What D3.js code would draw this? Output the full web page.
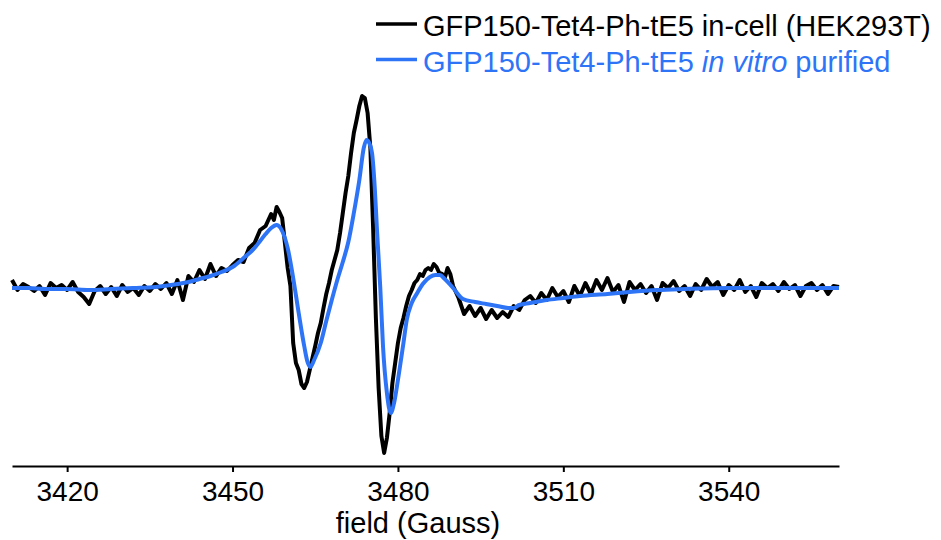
<!DOCTYPE html>
<html lang="en">
	<head>
		<meta charset="utf-8">
		<title>EPR spectra: GFP150-Tet4-Ph-tE5</title>
		<script type="text/javascript" src="https://cdn.jsdelivr.net/npm/d3@7"></script>
		<style type="text/css">
			body { margin: 0; background: #fff; }
			text { font-family: "Liberation Sans", Arial, Helvetica, sans-serif; }
		</style>
	</head>
	<body>
		<script type="text/javascript">

			//Series names and tick labels
			var seriesNames = ["in-cell", "in vitro"];
			var tickValues = [3420, 3450, 3480, 3510, 3540];

			//In-cell spectrum (black), field in Gauss
			var fieldInCell = [
				3410, 3411, 3412, 3413, 3414, 3415, 3416, 3417, 3418, 3419,
				3420, 3421, 3422, 3423, 3424, 3425, 3426, 3427, 3428, 3429,
				3430, 3431, 3432, 3433, 3434, 3435, 3436, 3437, 3438, 3439,
				3440, 3441, 3442, 3443, 3444, 3445, 3446, 3447, 3448, 3449,
				3450, 3451, 3452, 3453, 3454, 3455, 3456, 3457, 3457.5,
				3458, 3458.5, 3459, 3459.5, 3460, 3460.5, 3461, 3461.5, 3462, 3462.5,
				3463, 3463.5, 3464, 3464.5, 3465, 3465.5, 3466, 3466.5, 3467, 3467.5,
				3468, 3468.5, 3469, 3469.5, 3470, 3470.5, 3471, 3471.5, 3472, 3472.5,
				3473, 3473.5, 3474, 3474.5, 3475, 3475.5, 3476, 3476.5, 3477, 3477.5,
				3478, 3478.5, 3479, 3479.5, 3480, 3480.5, 3481, 3481.5, 3482, 3482.5,
				3483, 3483.5, 3484, 3484.5, 3485, 3485.5, 3486, 3486.5, 3487, 3487.5,
				3488, 3488.5, 3489, 3489.5, 3490,
				3491, 3492, 3493, 3494, 3495, 3496, 3497, 3498, 3499, 3500,
				3501, 3502, 3503, 3504, 3505, 3506, 3507, 3508, 3509, 3510,
				3511, 3512, 3513, 3514, 3515, 3516, 3517, 3518, 3519, 3520,
				3521, 3522, 3523, 3524, 3525, 3526, 3527, 3528, 3529, 3530,
				3531, 3532, 3533, 3534, 3535, 3536, 3537, 3538, 3539, 3540,
				3541, 3542, 3543, 3544, 3545, 3546, 3547, 3548, 3549, 3550,
				3551, 3552, 3553, 3554, 3555, 3556, 3557, 3558, 3559, 3560
			];
			var inCell = [
				8, -2, 4, 1, -3, 2, -7, 5, 0, 3,
				-2, 6, -4, -9, -16, -3, 2, -6, 1, -8,
				3, -4, 0, -7, 2, -3, 4, -1, 5, -6,
				8, -12, 12, 6, 18, 9, 24, 12, 20, 17,
				23, 28, 26, 40, 45, 58, 62, 74, 68,
				81, 76, 70, 45, 20, 2, -55, -75, -82, -96,
				-100, -94, -82, -70, -58, -45, -35, -20, -6, 5,
				18, 28, 38, 55, 75, 95, 112, 135, 155, 168,
				182, 192, 190, 175, 140, 60, -30, -100, -148, -165,
				-150, -125, -95, -75, -55, -40, -30, -18, -8, -2,
				5, 8, 14, 12, 18, 20, 18, 24, 21, 15,
				14, 10, 20, 14, 2,
				-10, -26, -18, -28, -20, -31, -22, -30, -24, -29,
				-18, -22, -12, -8, -15, -5, -12, 0, -9, -3,
				-14, 2, -8, 5, -6, 8, -2, 10, -4, 3,
				-14, 6, -2, 4, -5, 2, -12, 5, 0, 7,
				-3, 2, -8, 4, -2, 9, 1, 6, -7, 3,
				-2, 8, -4, 2, -9, 5, 0, 4, -3, 6,
				-1, 3, -8, 2, 5, -2, 3, -6, 2, 1
			];

			//In vitro purified spectrum (blue)
			var fieldInVitro = [
				3410, 3413, 3416, 3420, 3424, 3428, 3432, 3436, 3440, 3442,
				3444, 3446, 3448, 3450, 3452, 3454, 3455, 3456, 3457, 3458,
				3458.7, 3459.5, 3460, 3461, 3462, 3463, 3463.6, 3464.1, 3464.8, 3466,
				3467, 3468, 3469, 3470, 3471, 3472, 3473, 3473.8, 3474.3, 3474.8,
				3475.3, 3475.8, 3476.2, 3476.8, 3477.3, 3478, 3478.7, 3479.3, 3480, 3481,
				3481.6, 3482.5, 3483.5, 3484.5, 3485.8, 3486.8, 3487.6, 3488.5, 3490, 3491.8,
				3494, 3496, 3498, 3500, 3501, 3502, 3504, 3507, 3510, 3513,
				3518, 3522, 3527, 3532, 3540, 3550, 3560
			];
			var inVitro = [
				0, 0, -1, -1, -2, -1, 0, 1, 4, 6,
				9, 12, 16, 21, 30, 40, 47, 54, 60, 63,
				60, 50, 40, 10, -25, -58, -74, -79, -72, -55,
				-33, -12, 8, 26, 46, 75, 108, 140, 148, 145,
				135, 100, 58, 0, -59, -105, -125, -115, -92, -55,
				-32, -15, -5, 4, 11, 13, 13, 9, 0, -11,
				-14, -16, -18, -20, -20, -17, -15, -12, -10, -8,
				-6, -4, -2, -1, 0, 0, 0
			];

			var w = 941, h = 540;
			var axisY = 466;

			var svg = d3.select("body")
						.append("svg")
						.attr("width", w)
						.attr("height", h);

			var xScale = d3.scaleLinear()
				.domain([3410, 3560])
				.range([12, 839]);

			var yScale = d3.scaleLinear()
				.domain([-200, 200])
				.range([488, 88]);

			var line = d3.line()
				.x(function(d) { return xScale(d[0]); })
				.y(function(d) { return yScale(d[1]); });

			var smooth = d3.line()
				.curve(d3.curveMonotoneX)
				.x(function(d) { return xScale(d[0]); })
				.y(function(d) { return yScale(d[1]); });

			svg.append("path")
			   .datum(d3.zip(fieldInCell, inCell))
			   .attr("d", line)
			   .attr("fill", "none")
			   .attr("stroke", "#000")
			   .attr("stroke-width", 4)
			   .attr("stroke-linejoin", "round");

			svg.append("path")
			   .datum(d3.zip(fieldInVitro, inVitro))
			   .attr("d", smooth)
			   .attr("fill", "none")
			   .attr("stroke", "#2e74f7")
			   .attr("stroke-width", 4)
			   .attr("stroke-linejoin", "round");

			//x axis
			var xAxis = d3.axisBottom(xScale)
				.tickValues(tickValues)
				.tickFormat(d3.format("d"))
				.tickSize(6)
				.tickSizeOuter(0)
				.tickPadding(9);

			var gx = svg.append("g")
				.attr("transform", "translate(0," + axisY + ")")
				.call(xAxis);
			gx.select(".domain").attr("stroke-width", 2);
			gx.selectAll(".tick line").attr("stroke-width", 2);
			gx.selectAll(".tick text")
			  .attr("font-family", "Liberation Sans, Arial, sans-serif")
			  .attr("font-size", "28px")
			  .attr("fill", "#000");

			svg.append("text")
			   .attr("x", 418)
			   .attr("y", 533)
			   .attr("text-anchor", "middle")
			   .attr("font-size", "29px")
			   .text("field (Gauss)");

			//legend
			var legend = svg.append("g");
			var colors = ["#000", "#2e74f7"];
			legend.selectAll("line")
				.data(seriesNames)
				.enter()
				.append("line")
				.attr("x1", 376)
				.attr("x2", 417)
				.attr("y1", function(d, i) { return 24 + i * 35.5; })
				.attr("y2", function(d, i) { return 24 + i * 35.5; })
				.attr("stroke", function(d, i) { return colors[i]; })
				.attr("stroke-width", 3.5);

			var t1 = legend.append("text")
				.attr("x", 423).attr("y", 36)
				.attr("font-size", "29px")
				.attr("fill", colors[0])
				.text("GFP150-Tet4-Ph-tE5 in-cell (HEK293T)");

			var t2 = legend.append("text")
				.attr("x", 423).attr("y", 71.5)
				.attr("font-size", "29px")
				.attr("fill", colors[1]);
			t2.append("tspan").text("GFP150-Tet4-Ph-tE5 ");
			t2.append("tspan").attr("font-style", "italic").text("in vitro");
			t2.append("tspan").text(" purified");

		</script>
	</body>
</html>
